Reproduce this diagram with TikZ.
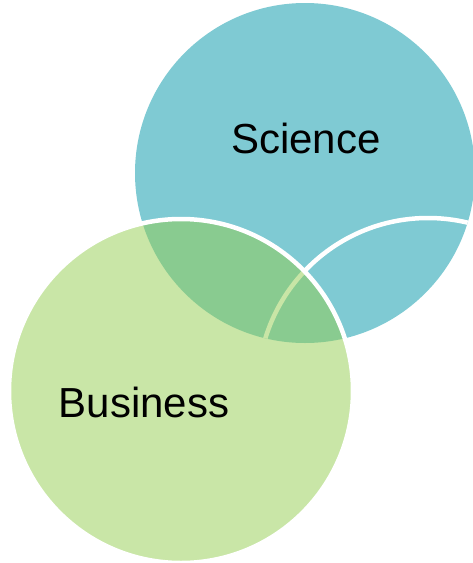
\documentclass[tikz,border=0pt]{standalone}
\usepackage{fontspec}
\setmainfont{Liberation Sans}
\definecolor{sci}{RGB}{127,202,211}
\definecolor{bus}{RGB}{147,205,79}
\begin{document}
\begin{tikzpicture}[x=1pt,y=-1pt,
  circ/.style={circle, minimum size=340pt, inner sep=0pt},
  rim/.style={draw=white, draw opacity=1, line width=4.5pt},
  lab/.style={font=\fontsize{42}{50}\selectfont, inner sep=0pt, text=black}]
\useasboundingbox (0,0) rectangle (473,563);
\node[circ, fill=sci] (science) at (305,173) {};
\begin{scope}
  \clip (305,173) circle (170pt);
  \node[circ, rim] (third) at (428,388) {};
\end{scope}
\node[circ, minimum size=344pt, fill=bus, fill opacity=0.5, rim] (business) at (181,391) {};
\node[lab] (scilabel) at (306,138) {Science};
\node[lab] (buslabel) at (144,402) {Business};
\end{tikzpicture}
\end{document}
